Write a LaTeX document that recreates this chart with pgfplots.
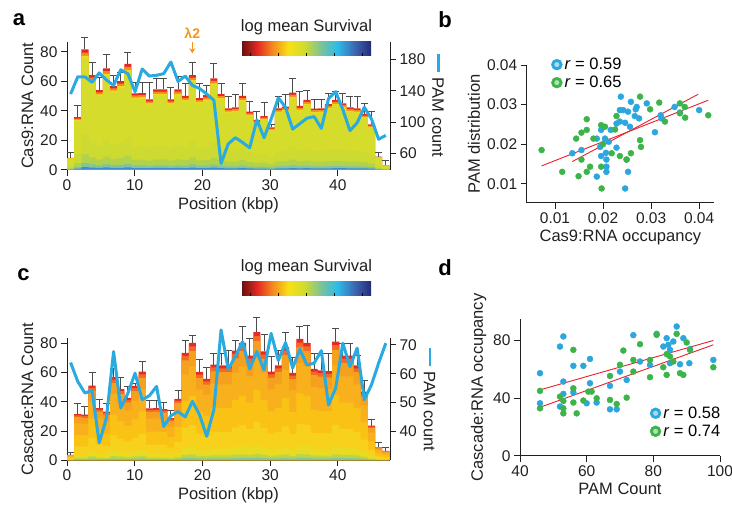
\documentclass[border=0pt]{standalone}
\usepackage{pgfplots}
\pgfplotsset{compat=1.18}
\usepackage{pgfplotstable}
\usetikzlibrary{arrows.meta}
\usepackage{fontspec}
\setmainfont{Liberation Sans}

\definecolor{axc}{HTML}{231F20}
\definecolor{pamblue}{HTML}{29ABE2}
\definecolor{ptblue}{HTML}{2BA6DE}
\definecolor{ptgreen}{HTML}{3CB44A}
\definecolor{fitred}{HTML}{E8202A}
\definecolor{lamorange}{HTML}{F7941D}
% survival scale
\definecolor{s1}{HTML}{6B1010}
\definecolor{s2}{HTML}{E32A22}
\definecolor{s3}{HTML}{F68B1F}
\definecolor{s4}{HTML}{F7E117}
\definecolor{s5}{HTML}{D2DB2C}
\definecolor{s6}{HTML}{74C39E}
\definecolor{s7}{HTML}{2DBBEA}
\definecolor{s8}{HTML}{3C63AE}
\definecolor{s9}{HTML}{232C78}
% bands of the Cas9 bars (top to bottom)
\definecolor{ba1}{HTML}{E32A22}
\definecolor{ba2}{HTML}{F68B1F}
\definecolor{ba3}{HTML}{F0DA1E}
\definecolor{ba4}{HTML}{D5DC2B}
\definecolor{ba5}{HTML}{CCDA31}
\definecolor{ba6}{HTML}{B2D24C}
\definecolor{ba7}{HTML}{80C4A2}
\definecolor{ba8}{HTML}{3D8ECE}
% bands of the Cascade bars
\definecolor{bc1}{HTML}{E42C24}
\definecolor{bc2}{HTML}{F26A24}
\definecolor{bc3}{HTML}{F6A020}
\definecolor{bc4}{HTML}{F9B01D}
\definecolor{bc5}{HTML}{FBC216}
\definecolor{bc6}{HTML}{F7D11B}
\definecolor{bc7}{HTML}{E9DA22}
\definecolor{bc8}{HTML}{BDD444}
\definecolor{bc9}{HTML}{80C6A0}

\pgfdeclarehorizontalshading{survbar}{100bp}{color(0bp)=(s1); color(25bp)=(s1); color(31bp)=(s2); color(37bp)=(s3); color(43bp)=(s4); color(49bp)=(s5); color(56bp)=(s6); color(62bp)=(s7); color(69bp)=(s8); color(75bp)=(s9); color(100bp)=(s9)}

% panel a: Cas9, x = bin centre (kbp), y = count, e = error, p = PAM count
\pgfplotstableread{
x y e p
0.53 8.1 3.4 136
1.59 35.7 8.2 158
2.65 81.6 8.4 158
3.70 64.2 8.6 151
4.76 54.0 8.4 163
5.82 68.7 9.3 154
6.88 56.7 7.3 147
7.94 60.0 6.0 167
8.99 71.7 8.1 162
10.05 51.8 7.2 139
11.11 52.0 7.0 168
12.17 47.7 11.3 159
13.23 54.5 7.5 160
14.28 54.5 7.5 162
15.34 47.7 8.1 177
16.40 54.5 8.5 152
17.46 50.0 8.5 159
18.52 64.2 8.8 147
19.57 48.6 9.9 143
20.63 50.5 6.9 136
21.69 62.0 10.0 128
22.75 51.3 7.3 47
23.81 41.6 8.4 72
24.86 42.3 8.7 80
25.92 50.0 8.6 74
26.98 39.3 6.7 67
28.04 33.7 5.6 103
29.10 36.4 9.0 80
30.15 28.7 2.3 104
31.21 41.6 7.9 131
32.27 42.8 8.2 119
33.33 52.2 9.8 91
34.39 43.2 9.8 98
35.44 47.3 6.7 105
36.50 41.5 6.3 107
37.56 41.6 6.2 92
38.62 44.5 7.5 130
39.68 47.3 5.7 139
40.73 45.0 7.0 116
41.79 42.3 7.2 89
42.85 41.6 7.9 99
43.91 37.8 7.2 119
44.97 30.8 8.5 104
46.02 8.8 2.9 78
47.08 3.0 3.0 83
}\cas

% panel c: Cascade
\pgfplotstableread{
x y e p
0.53 3.7 1.6 63.9
1.59 31.6 7.3 57.3
2.65 31.1 5.7 53.3
3.70 51.0 8.7 54.2
4.76 35.7 5.9 36.0
5.82 33.2 5.7 44.6
6.88 56.8 5.7 67.7
7.94 48.7 8.1 48.1
8.99 42.6 8.0 53.2
10.05 50.8 1.5 60.2
11.11 60.6 7.1 51.0
12.17 35.5 5.7 52.4
13.23 35.7 5.5 55.6
14.28 35.0 4.8 41.7
15.34 28.8 5.5 45.4
16.40 41.9 5.7 46.9
17.46 73.5 8.4 45.0
18.52 80.3 5.1 50.4
19.57 60.4 8.2 45.8
20.63 55.6 8.0 38.3
21.69 65.4 7.8 47.5
22.75 64.8 8.2 75.2
23.81 64.8 10.2 61.6
24.86 75.0 7.0 66.0
25.92 80.3 11.2 71.1
26.98 71.6 11.4 61.6
28.04 87.6 9.9 67.7
29.10 74.4 11.4 61.3
30.15 60.6 10.3 74.0
31.21 64.8 10.2 64.6
32.27 77.3 10.3 70.8
33.33 59.7 10.8 62.0
34.39 83.0 8.5 68.5
35.44 80.3 12.1 63.0
36.50 62.5 10.3 63.7
37.56 61.5 11.3 68.0
38.62 60.9 11.9 49.2
39.68 81.2 9.2 55.0
40.73 71.6 8.4 70.6
41.79 71.6 8.0 62.5
42.85 64.8 7.2 68.9
43.91 46.9 7.6 51.0
44.97 23.6 4.5 56.2
46.02 8.7 3.4 63.7
47.08 6.4 2.3 70.6
}\cascade

% one colour band of the survival-coloured bars: fraction of bar height, colour, table
\newcommand{\band}[3]{\addplot[ybar, bar width=1.058, draw=none, fill=#2, forget plot]
  table[x=x, y expr=#1*\thisrow{y}] {#3};}

\pgfplotsset{
  panel/.style={scale only axis, anchor=south west, clip=false,
    axis lines*=left, tick align=outside, major tick length=6pt,
    axis line style={line width=0.9pt, axc},
    tick style={line width=0.9pt, axc},
    tick label style={font=\fontsize{15.5}{17}\selectfont, text=axc},
    label style={font=\fontsize{16.5}{19}\selectfont, text=axc},
    /pgf/number format/assume math mode=true},
  rightaxis/.style={scale only axis, anchor=south west, clip=false,
    axis y line*=right, axis x line=none, tick align=outside, major tick length=6pt,
    axis line style={line width=0.9pt, axc},
    tick style={line width=0.9pt, axc},
    tick label style={font=\fontsize{15.5}{17}\selectfont, text=axc},
    label style={font=\fontsize{16.5}{19}\selectfont, text=axc},
    ylabel style={rotate=180},
    ylabel={\textcolor{pamblue}{\rule[0.3em]{1.1em}{2.6pt}}\hspace{0.35em}PAM count},
    /pgf/number format/assume math mode=true},
  errs/.style={draw=none, mark=none, forget plot,
    error bars/.cd, y dir=plus, y explicit,
    error bar style={draw=black!70, line width=0.9pt},
    error mark options={draw=black!70, line width=0.9pt, mark size=3.5pt, rotate=90}},
}
\tikzset{survleg/.style={font=\fontsize{16.5}{19}\selectfont, text=axc}}

\begin{document}
\begin{tikzpicture}
\useasboundingbox (0,0) rectangle (732pt,-508pt);

% ---------- a ----------
\begin{axis}[panel, at={(67pt,-169.7pt)}, width=323pt, height=128pt,
  xmin=0, xmax=47.7, ymin=0, ymax=86.8,
  xtick={0,10,20,30,40}, ytick={0,20,40,60,80},
  xlabel={Position (kbp)}, ylabel={Cas9:RNA Count}]
\band{1}{ba1}{\cas}
\band{0.972}{ba2}{\cas}
\band{0.945}{ba3}{\cas}
\band{0.925}{ba4}{\cas}
\band{0.30}{ba5}{\cas}
\band{0.13}{ba6}{\cas}
\band{0.055}{ba7}{\cas}
\band{0.022}{ba8}{\cas}
\addplot[errs] table[x=x, y=y, y error=e] {\cas};
\node[lamorange, font=\bfseries\fontsize{14}{16}\selectfont] at (axis cs:18.5,92.5) {λ2};
\draw[lamorange, line width=1.3pt, -{Stealth[length=5pt,width=6pt]}] (axis cs:18.5,86.5) -- (axis cs:18.5,79);
\end{axis}
\begin{axis}[rightaxis, at={(67pt,-169.7pt)}, width=323pt, height=128pt,
  xmin=0, xmax=47.7, ymin=39, ymax=203, ytick={60,100,140,180}]
\addplot[pamblue, line width=3pt, no markers, line join=round] table[x=x, y=p] {\cas};
\end{axis}

% ---------- c ----------
\begin{axis}[panel, at={(67pt,-460.2pt)}, width=323pt, height=121.9pt,
  xmin=0, xmax=47.7, ymin=0, ymax=83.4,
  xtick={0,10,20,30,40}, ytick={0,20,40,60,80},
  xlabel={Position (kbp)}, ylabel={Cascade:RNA Count}]
\band{1}{bc1}{\cascade}
\band{0.97}{bc2}{\cascade}
\band{0.93}{bc3}{\cascade}
\band{0.80}{bc4}{\cascade}
\band{0.55}{bc5}{\cascade}
\band{0.30}{bc6}{\cascade}
\band{0.12}{bc7}{\cascade}
\band{0.05}{bc8}{\cascade}
\band{0.02}{bc9}{\cascade}
\addplot[errs] table[x=x, y=y, y error=e] {\cascade};
\end{axis}
\begin{axis}[rightaxis, at={(67pt,-460.2pt)}, width=323pt, height=121.9pt,
  xmin=0, xmax=47.7, ymin=30, ymax=72.3, ytick={40,50,60,70}]
\addplot[pamblue, line width=3pt, no markers, line join=round] table[x=x, y=p] {\cascade};
\end{axis}

% ---------- b ----------
\begin{axis}[panel, at={(526.7pt,-202.7pt)}, width=187.3pt, height=137.7pt,
  xmin=0.0041, xmax=0.0431, ymin=0.0052, ymax=0.04,
  xtick={0.01,0.02,0.03,0.04}, ytick={0.01,0.02,0.03,0.04},
  scaled ticks=false,
  xticklabel style={/pgf/number format/fixed, /pgf/number format/precision=2},
  yticklabel style={/pgf/number format/fixed, /pgf/number format/precision=2},
  xlabel={Cas9:RNA occupancy}, ylabel={PAM distribution},
  legend style={draw=none, fill=none, at={(axis cs:0.00853,0.0428)}, anchor=north west,
    font=\fontsize{16.5}{19}\selectfont, row sep=1pt},
  legend cell align=left]
\addplot[only marks, mark=*, mark size=3pt, mark options={fill=ptblue, draw=ptblue},
  legend image code/.code={\fill[ptblue] (0pt,0) circle (5.5pt); \fill[ptblue!40!white] (0pt,0) circle (2.3pt);}]
coordinates {
(0.0237,0.0320) (0.0258,0.0307) (0.0270,0.0294) (0.0268,0.0288) (0.0291,0.0303)
(0.0235,0.0286) (0.0242,0.0286) (0.0252,0.0282) (0.0266,0.0271) (0.0275,0.0265)
(0.0228,0.0252) (0.0235,0.0257) (0.0246,0.0254) (0.0256,0.0244) (0.0216,0.0236)
(0.0196,0.0236) (0.0187,0.0214) (0.0204,0.0214) (0.0194,0.0193) (0.0228,0.0191)
(0.0206,0.0178) (0.0196,0.0170) (0.0207,0.0161) (0.0249,0.0161) (0.0207,0.0143)
(0.0207,0.0130) (0.0187,0.0118) (0.0252,0.0130) (0.0246,0.0088) (0.0136,0.0177)
(0.0155,0.0185) (0.0308,0.0230) (0.0320,0.0273) (0.0322,0.0265) (0.0349,0.0294)
(0.0360,0.0280) (0.0400,0.0286) (0.0212,0.0206)
};
\addlegendentry{\textit{r} = 0.59}
\addplot[only marks, mark=*, mark size=3pt, mark options={fill=ptgreen, draw=ptgreen},
  legend image code/.code={\fill[ptgreen] (0pt,0) circle (5.5pt); \fill[ptgreen!40!white] (0pt,0) circle (2.3pt);}]
coordinates {
(0.0072,0.0185) (0.0115,0.0130) (0.0149,0.0119) (0.0144,0.0214) (0.0155,0.0229)
(0.0166,0.0236) (0.0166,0.0263) (0.0155,0.0161) (0.0166,0.0130) (0.0173,0.0143)
(0.0180,0.0214) (0.0196,0.0248) (0.0204,0.0244) (0.0196,0.0143) (0.0197,0.0088)
(0.0218,0.0177) (0.0225,0.0237) (0.0228,0.0271) (0.0235,0.0170) (0.0249,0.0161)
(0.0258,0.0177) (0.0277,0.0210) (0.0279,0.0193) (0.0277,0.0320) (0.0298,0.0288)
(0.0317,0.0305) (0.0329,0.0257) (0.0360,0.0303) (0.0370,0.0294) (0.0371,0.0267)
(0.0419,0.0273) (0.0360,0.0278) (0.0200,0.0200)
};
\addlegendentry{\textit{r} = 0.65}
\addplot[fitred, line width=0.9pt, forget plot] coordinates {(0.0072,0.0145) (0.0419,0.0311)};
\addplot[fitred, line width=0.9pt, forget plot] coordinates {(0.0136,0.0156) (0.0398,0.0326)};
\end{axis}

% ---------- d ----------
\begin{axis}[panel, at={(520pt,-455.7pt)}, width=200pt, height=136.4pt,
  xmin=40, xmax=100, ymin=0, ymax=94.7,
  xtick={40,60,80,100}, ytick={0,40,80},
  xlabel={PAM Count}, ylabel={Cascade:RNA occupancy},
  legend style={draw=none, fill=none, at={(axis cs:78,36.9)}, anchor=north west,
    font=\fontsize{16.5}{19}\selectfont, row sep=1pt},
  legend cell align=left]
\addplot[only marks, mark=*, mark size=3pt, mark options={fill=ptblue, draw=ptblue},
  legend image code/.code={\fill[ptblue] (1pt,0) circle (5.5pt); \fill[ptblue!40!white] (1pt,0) circle (2.3pt);}]
coordinates {
(46,57.3) (46,36.4) (52,75.8) (53,82.8) (53,51.5) (53,42.9) (56,62.4) (59,62.4)
(61,67.2) (61,50.3) (60,36.4) (63,36.9) (67,48.5) (67,32.2) (69,32.2) (70,58.4)
(72,52.6) (74,83.7) (76,65.4) (79,63) (81,84.6) (83,75.8) (84,81.6) (84.5,77)
(85,73.5) (85,64.2) (87,89.7) (86,79.3) (89,81.6) (90.8,64.2) (91,74) (98,66.5)
(52,34.1) (88,63.5) (56,44)
};
\addlegendentry{\textit{r} = 0.58}
\addplot[only marks, mark=*, mark size=3pt, mark options={fill=ptgreen, draw=ptgreen},
  legend image code/.code={\fill[ptgreen] (1pt,0) circle (5.5pt); \fill[ptgreen!40!white] (1pt,0) circle (2.3pt);}]
coordinates {
(46,45) (46,32.9) (52,41) (53,32.9) (53,29.4) (56,73.5) (56,46.8) (56,36.9)
(57,29.4) (59,38.3) (60.5,44.5) (61.5,44.5) (63,39.9) (67,55.4) (67,38.7) (69,35.9)
(70,63.1) (71,73) (72,40.3) (74,66.5) (74,58.4) (76,77.4) (79,66.5) (79,54.5)
(81,83.9) (83,61.4) (84,70.5) (84,56.1) (85,68.9) (86,65.4) (87,84.6) (88,57.3)
(89,56.1) (90,78.6) (91,73.5) (98,61.4) (53,38)
};
\addlegendentry{\textit{r} = 0.74}
\addplot[fitred, line width=0.9pt, forget plot] coordinates {(46,45.7) (98,80)};
\addplot[fitred, line width=0.9pt, forget plot] coordinates {(46,33.6) (98,77)};
\end{axis}

% ---------- colour scales ----------
\foreach \yy in {41.7, 281.7} {
  \shade[shading=survbar] (242pt,-\yy pt) rectangle (371pt,-\yy pt-14pt);
  \foreach \xx in {250,278,306.5,334.5,362.7}
    \draw[black, line width=0.8pt] (\xx pt,-\yy pt-14pt) -- (\xx pt,-\yy pt-11pt);
}
\node[survleg] at (306.5pt,-27.5pt) {log mean Survival};
\node[survleg] at (306.5pt,-267.5pt) {log mean Survival};

% ---------- panel letters ----------
\node[font=\bfseries\fontsize{22}{22}\selectfont] at (19pt,-20pt) {a};
\node[font=\bfseries\fontsize{22}{22}\selectfont] at (445pt,-19.5pt) {b};
\node[font=\bfseries\fontsize{22}{22}\selectfont] at (23.5pt,-275pt) {c};
\node[font=\bfseries\fontsize{22}{22}\selectfont] at (445pt,-268pt) {d};
\end{tikzpicture}
\end{document}
